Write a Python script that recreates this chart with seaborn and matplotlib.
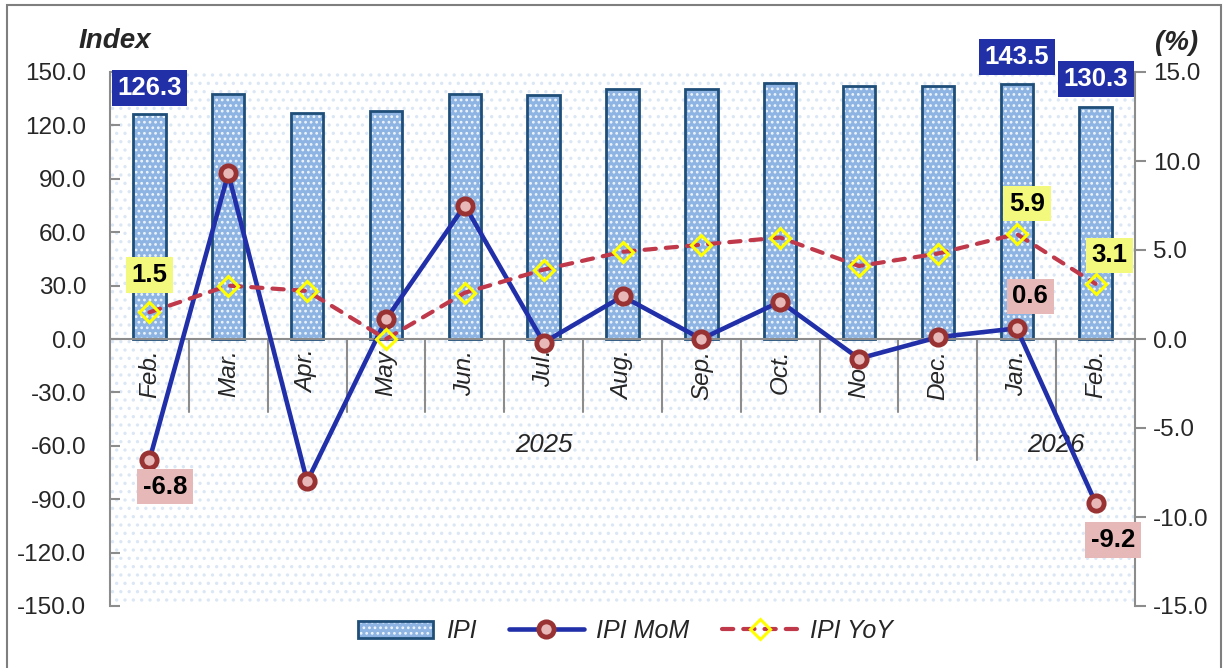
import numpy as np
import pandas as pd
import matplotlib
matplotlib.use("Agg")
import matplotlib.pyplot as plt
import seaborn as sns
from matplotlib.patches import Rectangle, Patch
from matplotlib.lines import Line2D
from matplotlib.colors import to_rgba

# ---------------- data ----------------
months = ["Feb.", "Mar.", "Apr.", "May", "Jun.", "Jul.", "Aug.", "Sep.", "Oct.", "Nov.", "Dec.", "Jan.", "Feb."]
years = ["2025"] * 11 + ["2026"] * 2
ipi = [126.3, 137.6, 127.0, 128.2, 137.6, 137.1, 140.4, 140.4, 143.8, 142.1, 142.0, 143.5, 130.3]
ipi_mom = [-6.8, 9.3, -8.0, 1.1, 7.5, -0.2, 2.4, 0.0, 2.1, -1.1, 0.1, 0.6, -9.2]
ipi_yoy = [1.5, 3.0, 2.7, 0.0, 2.6, 3.9, 4.9, 5.3, 5.7, 4.1, 4.8, 5.9, 3.1]
left_ticks = [-150, -120, -90, -60, -30, 0, 30, 60, 90, 120, 150]
right_ticks = [-15, -10, -5, 0, 5, 10, 15]

keys = [f"{m}{y}" for m, y in zip(months, years)]
df = pd.DataFrame({"key": keys, "pos": range(len(keys)), "IPI": ipi,
                   "MoM": ipi_mom, "YoY": ipi_yoy})

# ---------------- style ----------------
sns.set_theme(style="white")
plt.rcParams["font.family"] = ["Liberation Sans", "DejaVu Sans"]
plt.rcParams["hatch.linewidth"] = 1.2

BAR_FACE = "#8DB4E2"
BAR_EDGE = "#1F4E79"
MOM_LINE = "#2130A8"
MOM_EDGE = "#993333"
MOM_FACE = "#E8B7B7"
YOY_LINE = "#C0394B"
YOY_MARK = "#FFFF00"
GRAY = "#8C8C8C"
YOY_DASH = [2.7, 2.4]

fig = plt.figure(figsize=(12.26, 6.68), dpi=100)
ax = fig.add_axes([110 / 1226, 62 / 668, 1025 / 1226, 534 / 668])

# dotted background of plot area
bg = Rectangle((0, 0), 1, 1, transform=ax.transAxes, facecolor="white",
               hatch="..", linewidth=0, zorder=0)
bg._hatch_color = to_rgba("#DCE7F5")
ax.add_patch(bg)
ax.set_facecolor("none")

sns.barplot(data=df, x="key", y="IPI", order=keys, color=BAR_FACE,
            saturation=1, width=0.41, ax=ax, zorder=2)
for p in ax.patches:
    if p is bg:
        continue
    p.set_hatch("...")
    p.set_edgecolor(BAR_EDGE)
    p.set_linewidth(2)
    p._hatch_color = to_rgba("#EEF4FB")

ax.set_xlim(-0.5, len(keys) - 0.5)
ax.set_ylim(-150, 150)
ax.set_yticks(left_ticks)
ax.set_yticklabels([f"{v:.1f}" for v in left_ticks])
ax.set_xticks([])
ax.set_xlabel("")
ax.set_ylabel("")
ax.tick_params(axis="y", direction="in", length=7, width=1.5, color=GRAY,
               labelsize=17.5, pad=17, left=True)
for s in ["top", "bottom", "right"]:
    ax.spines[s].set_visible(False)
ax.spines["left"].set_color(GRAY)
ax.spines["left"].set_linewidth(1.5)

# zero line and category separators
ax.axhline(0, color=GRAY, lw=1.5, zorder=3)
for i in range(len(keys) - 1):
    xb = i + 0.5
    ybot = -68 if years[i] != years[i + 1] else -41
    ax.plot([xb, xb], [0, ybot], color=GRAY, lw=1.5, zorder=3, clip_on=False)

for i, m in enumerate(months):
    ax.text(i, -6, m, rotation=90, ha="center", va="top", fontsize=17.5,
            style="italic", zorder=4)
ax.text(5, -59.5, "2025", ha="center", va="center", fontsize=18.5, style="italic", zorder=4)
ax.text(11.5, -59.5, "2026", ha="center", va="center", fontsize=18.5, style="italic", zorder=4)

# ---------------- right axis ----------------
ax2 = ax.twinx()
sns.lineplot(data=df, x="pos", y="MoM", ax=ax2, color=MOM_LINE, lw=3.3,
             marker="o", markersize=11, markerfacecolor=MOM_FACE,
             markeredgecolor=MOM_EDGE, markeredgewidth=3.5, zorder=5)
sns.lineplot(data=df, x="pos", y="YoY", ax=ax2, color=YOY_LINE, lw=3.0,
             marker="D", markersize=10, markerfacecolor="none",
             markeredgecolor=YOY_MARK, markeredgewidth=2.2, zorder=6)
yoy_line = ax2.lines[-1]
yoy_line.set_dashes(YOY_DASH)
yoy_line.set_dash_capstyle("round")

ax2.set_ylim(-15, 15)
ax2.set_xlim(-0.5, len(keys) - 0.5)
ax2.set_yticks(right_ticks)
ax2.set_yticklabels([f"{v:.1f}" for v in right_ticks])
ax2.set_xlabel("")
ax2.set_ylabel("")
ax2.tick_params(axis="y", direction="out", length=8, width=1.5, color=GRAY,
                labelsize=17.5, pad=5, right=True)
for s in ["top", "bottom", "left"]:
    ax2.spines[s].set_visible(False)
ax2.spines["right"].set_color(GRAY)
ax2.spines["right"].set_linewidth(1.5)

# ---------------- data labels ----------------
def box(axis, x, y, txt, fc, tc):
    axis.text(x, y, txt, ha="center", va="center", fontsize=18.5, weight="bold",
              color=tc, zorder=10, clip_on=False,
              bbox=dict(boxstyle="square,pad=0.22", fc=fc, ec="none"))

box(ax, 0, 141, f"{ipi[0]:.1f}", "#2230A8", "white")
box(ax, 11, 158.5, f"{ipi[11]:.1f}", "#2230A8", "white")
box(ax, 12, 146, f"{ipi[12]:.1f}", "#2230A8", "white")

box(ax2, 0, 3.6, f"{ipi_yoy[0]:.1f}", "#F3F97C", "black")
box(ax2, 11.13, 7.6, f"{ipi_yoy[11]:.1f}", "#F3F97C", "black")
box(ax2, 12.18, 4.7, f"{ipi_yoy[12]:.1f}", "#F3F97C", "black")

box(ax2, 0.2, -8.3, f"{ipi_mom[0]:.1f}", "#E6B8B7", "black")
box(ax2, 11.17, 2.4, f"{ipi_mom[11]:.1f}", "#E6B8B7", "black")
box(ax2, 12.22, -11.3, f"{ipi_mom[12]:.1f}", "#E6B8B7", "black")

# ---------------- titles ----------------
fig.text(115 / 1226, 1 - 41 / 668, "Index", ha="center", va="center",
         fontsize=20, weight="bold", style="italic")
fig.text(1177 / 1226, 1 - 43 / 668, "(%)", ha="center", va="center",
         fontsize=20, weight="bold", style="italic")

# ---------------- legend ----------------
h_bar = Patch(facecolor=BAR_FACE, edgecolor=BAR_EDGE, linewidth=2, hatch="...")
h_bar._hatch_color = to_rgba("#EEF4FB")
h_mom = Line2D([], [], color=MOM_LINE, lw=3.3, marker="o", markersize=11,
               markerfacecolor=MOM_FACE, markeredgecolor=MOM_EDGE, markeredgewidth=3.5)
h_yoy = Line2D([], [], color=YOY_LINE, lw=3.0, marker="D", markersize=10,
               markerfacecolor="none", markeredgecolor=YOY_MARK, markeredgewidth=2.2,
               dashes=YOY_DASH, dash_capstyle="round")
leg = fig.legend([h_bar, h_mom, h_yoy], ["IPI", "IPI MoM", "IPI YoY"],
                 loc="center", bbox_to_anchor=(0.51, 1 - 631 / 668), ncol=3,
                 frameon=False, prop=dict(size=18, style="italic"),
                 handlelength=3.0, columnspacing=1.3, handletextpad=0.5)

# figure border
fig.patches.append(Rectangle((7 / 1226, -0.01), 1214 / 1226, 1.01 - 5 / 668,
                             transform=fig.transFigure, fill=False,
                             edgecolor="#7F7F7F", lw=1.5))

fig.savefig("out.png", dpi=100)
